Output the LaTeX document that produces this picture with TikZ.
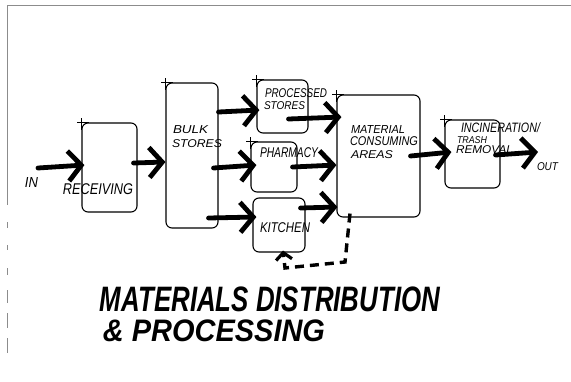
\documentclass[tikz,border=0pt]{standalone}
\usepackage{fontspec}
\usepackage{graphicx}
\usetikzlibrary{arrows.meta}
\newfontfamily\handfont{Liberation Sans}
\newcommand\hw[3]{\resizebox*{#1pt}{#2pt}{\handfont\itshape #3}}
\newcommand\tw[3]{\resizebox*{#1pt}{#2pt}{\handfont\bfseries\itshape #3}}
\begin{document}
\begin{tikzpicture}[x=1pt,y=-1pt,
  box/.style={draw, line width=1.1pt, rounded corners=6pt, inner sep=0pt},
  lab/.style={inner sep=0pt, anchor=center},
  big/.style={line width=4.8pt, line cap=round,
    -{Straight Barb[length=13pt,width=30pt,line width=4.8pt]}},
  fb/.style={line width=3.4pt, dash pattern=on 9pt off 6pt,
    -{Straight Barb[length=7pt,width=16pt,line width=3.2pt]}},
  frame/.style={draw=black!45, line width=1pt}]
\useasboundingbox (0,0) rectangle (571,381);
% frame
\draw[frame] (7,5) -- (571,5);
\draw[frame] (7,5) -- (7,205);
\foreach \a/\b in {222/228,245/250,268/275,290/303,313/328,338/353}
  \draw[frame] (7,\a) -- (7,\b);
% boxes
\node[box, minimum width=55pt, minimum height=89pt] (rec) at (109.5,167.5) {};
\node[box, minimum width=52pt, minimum height=145pt] (bulk) at (192,155.5) {};
\node[box, minimum width=51pt, minimum height=53pt] (proc) at (282.5,106.5) {};
\node[box, minimum width=46pt, minimum height=50pt] (pharm) at (274,167) {};
\node[box, minimum width=52pt, minimum height=54pt] (kit) at (279,225) {};
\node[box, minimum width=83pt, minimum height=122pt] (mca) at (378.5,156) {};
\node[box, minimum width=55pt, minimum height=68pt] (inc) at (472.5,154) {};
% corner ticks
\foreach \n in {rec,bulk,proc,pharm,mca,inc}{
  \draw[line width=0.9pt] ([shift={(-4,0)}]\n.north west) -- ([shift={(8,0)}]\n.north west);
  \draw[line width=0.9pt] ([shift={(0,-4)}]\n.north west) -- ([shift={(0,8)}]\n.north west);
}
% labels
\node[lab] (lin) at (31.5,182) {\hw{13}{10}{IN}};
\node[lab] (lrec) at (98,189) {\hw{70}{11}{RECEIVING}};
\node[lab] (lbulk1) at (190.5,129.5) {\hw{35}{8}{BULK}};
\node[lab] (lbulk2) at (197,143.5) {\hw{50}{8}{STORES}};
\node[lab] (lproc1) at (296,93.5) {\hw{62}{9}{PROCESSED}};
\node[lab] (lproc2) at (284.5,106) {\hw{41}{8}{STORES}};
\node[lab] (lpharm) at (289,153) {\hw{58}{10}{PHARMACY}};
\node[lab] (lkit) at (285,228) {\hw{50}{10}{KITCHEN}};
\node[lab] (lmca1) at (378,129.5) {\hw{54}{8}{MATERIAL}};
\node[lab] (lmca2) at (384,141.5) {\hw{68}{9}{CONSUMING}};
\node[lab] (lmca3) at (372,155) {\hw{42}{8}{AREAS}};
\node[lab] (linc1) at (500.5,128) {\hw{79}{10}{INCINERATION/}};
\node[lab] (linc2) at (472,140.5) {\hw{30}{7}{TRASH}};
\node[lab] (linc3) at (484.5,150) {\hw{57}{8}{REMOVAL}};
\node[lab] (lout) at (547.5,167) {\hw{21}{8}{OUT}};
\node[lab] (t1) at (270,299) {\tw{340}{25}{MATERIALS DISTRIBUTION}};
\node[lab] (t2) at (214,331) {\tw{222}{22}{\& PROCESSING}};
% flows
\coordinate (inpt) at (38,168);
\coordinate (outpt) at (538,152);
\draw[big] (inpt) -- ([shift={(3,-2.5)}]rec.west);
\draw[big] ([shift={(-4,-4.5)}]rec.east) -- ([shift={(0,6.5)}]bulk.west);
\draw[big] ([shift={(0,-43.5)}]bulk.east) -- ([shift={(3,3.5)}]proc.west);
\draw[big] ([shift={(-5,12.5)}]bulk.east) -- ([shift={(6,-2)}]pharm.west);
\draw[big] ([shift={(-10,62.5)}]bulk.east) -- ([shift={(4,-8)}]kit.west);
\draw[big] ([shift={(-20,12.5)}]proc.east) -- ([shift={(5,-39)}]mca.west);
\draw[big] ([shift={(-5,0)}]pharm.east) -- ([shift={(0,9)}]mca.west);
\draw[big] ([shift={(-5,-17)}]kit.east) -- ([shift={(1,51)}]mca.west);
\draw[big] ([shift={(-10,0)}]mca.east) -- ([shift={(7,-2)}]inc.west);
\draw[big] ([shift={(-5,1)}]inc.east) -- (outpt);
\draw[fb] ([shift={(-28.5,-4)}]mca.south) -- (345,262) -- (285,268) -- ([shift={(4,-2)}]kit.south);
\end{tikzpicture}
\end{document}
